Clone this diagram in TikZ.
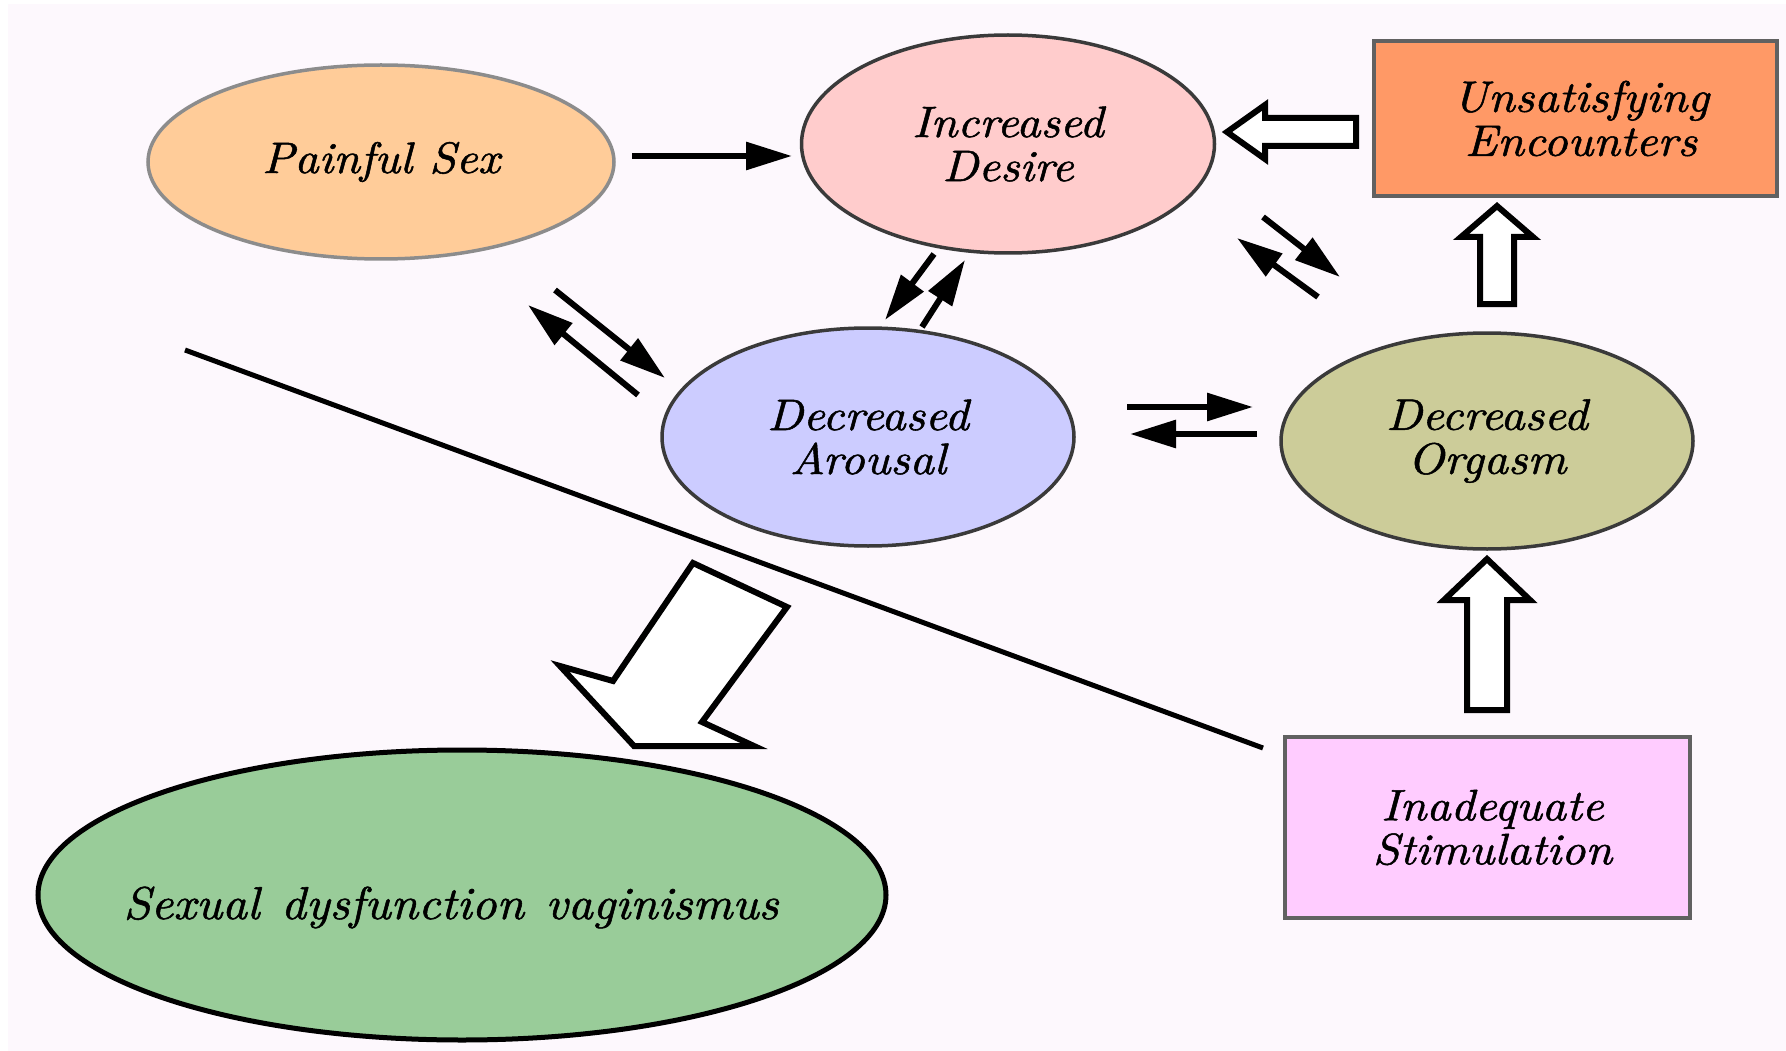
\documentclass[tikz,border=0pt]{standalone}
\usepackage{fontspec}
\newfontfamily\labfont{lmroman10-italic.otf}[FakeBold=1.2, FakeStretch=1.08]
\newfontfamily\biglabfont{lmroman10-italic.otf}[FakeBold=1.2, FakeStretch=1.06]
\usetikzlibrary{shapes.geometric,arrows.meta}
\definecolor{bgpink}{HTML}{FDF8FD}
\definecolor{cPS}{HTML}{FFCC99}
\definecolor{cID}{HTML}{FFCCCC}
\definecolor{cUE}{HTML}{FF9966}
\definecolor{cDA}{HTML}{CCCCFF}
\definecolor{cDO}{HTML}{CCCC99}
\definecolor{cSD}{HTML}{99CC99}
\definecolor{cIS}{HTML}{FFCCFF}
\definecolor{edge}{HTML}{3A3A3A}
\tikzset{
  lab/.style={font=\labfont\fontsize{44}{44}\selectfont, align=center, text=black},
  biglab/.style={font=\biglabfont\fontsize{46}{46}\selectfont, align=center, text=black},
  ell/.style={ellipse, draw=edge, line width=3.5pt, inner sep=0pt, lab},
  boxnode/.style={rectangle, draw=edge!80, line width=4pt, inner sep=0pt, lab},
  arr/.style={line width=6pt, -{Triangle[length=46pt,width=27pt]}},
  hollow/.style={draw=black, fill=white, line width=6pt, line join=miter},
  divider/.style={line width=5pt, black}
}
\begin{document}
\begin{tikzpicture}[x=1pt,y=-1pt]
\useasboundingbox (0,0) rectangle (1786,1051);
\fill[white] (0,0) rectangle (1786,1051);
\fill[bgpink] (8,4) rectangle (1786,1051);

% dividing line
\coordinate (l1) at (185,350);
\coordinate (l2) at (1263,748);
\draw[divider] (l1) -- (l2);

% nodes
\node[ell, draw=gray!90, fill=cPS, minimum width=466pt, minimum height=194pt] (ps) at (381,162) {Painful Sex};
\node[ell, fill=cID, minimum width=413pt, minimum height=218pt] (id) at (1008,144) {Increased\\Desire};
\node[boxnode, fill=cUE, minimum width=403pt, minimum height=155pt] (ue) at (1575,118.5) {\hspace{12pt}Unsatisfying\\\hspace{12pt}Encounters};
\node[ell, fill=cDA, minimum width=412pt, minimum height=218pt] (da) at (868,437) {Decreased\\Arousal};
\node[ell, fill=cDO, minimum width=412pt, minimum height=216pt] (dor) at (1487,441) {Decreased\\Orgasm};
\node[ell, biglab, draw=black, line width=5pt, fill=cSD, minimum width=848pt, minimum height=290pt] (sd) at (462,895) {\raisebox{-24pt}[0pt][0pt]{\makebox[0pt]{Sexual\hspace{4pt} dysfunction\hspace{4pt} vaginismus\hspace{22pt}}}};
\node[boxnode, fill=cIS, minimum width=405pt, minimum height=181pt] (is) at (1487.5,827.5) {\hspace{10pt}Inadequate\\\hspace{10pt}Stimulation};

% connector end points
\coordinate (psA) at (632,156);  \coordinate (idA) at (792,156);
\coordinate (a1s) at (555,290);  \coordinate (a1e) at (665,378);
\coordinate (a2s) at (638,395);  \coordinate (a2e) at (528,305);
\coordinate (b1s) at (934,254);  \coordinate (b1e) at (885,320);
\coordinate (b2s) at (922,327);  \coordinate (b2e) at (965,260);
\coordinate (c1s) at (1263,217); \coordinate (c1e) at (1340,277);
\coordinate (c2s) at (1318,297); \coordinate (c2e) at (1237,238);
\coordinate (d1s) at (1127,407); \coordinate (d1e) at (1253,407);
\coordinate (d2s) at (1257,434); \coordinate (d2e) at (1130,434);

% solid arrows
\draw[arr] (psA) -- (idA);
\draw[arr] (a1s) -- (a1e);
\draw[arr] (a2s) -- (a2e);
\draw[arr] (b1s) -- (b1e);
\draw[arr] (b2s) -- (b2e);
\draw[arr] (c1s) -- (c1e);
\draw[arr] (c2s) -- (c2e);
\draw[arr] (d1s) -- (d1e);
\draw[arr] (d2s) -- (d2e);

% hollow arrows
% Unsatisfying Encounters -> Increased Desire
\draw[hollow] (1227,132) -- (1265,105) -- (1265,118) -- (1356,118) -- (1356,146) -- (1265,146) -- (1265,159) -- cycle;
% Decreased Orgasm -> Unsatisfying Encounters
\draw[hollow] (1497,206) -- (1533,237) -- (1514,237) -- (1514,304) -- (1480,304) -- (1480,237) -- (1461,237) -- cycle;
% Inadequate Stimulation -> Decreased Orgasm
\draw[hollow] (1487,559) -- (1530,600) -- (1507,600) -- (1507,710) -- (1467,710) -- (1467,600) -- (1444,600) -- cycle;
% big arrow towards Sexual dysfunction
\draw[hollow] (693,563) -- (787,607) -- (702,722) -- (754,746) -- (634,746) -- (560,666) -- (613,681) -- cycle;
\end{tikzpicture}
\end{document}
